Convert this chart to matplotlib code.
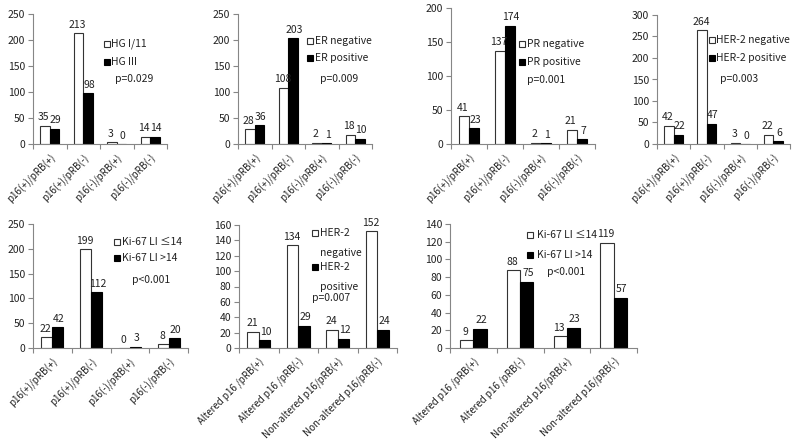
import matplotlib
matplotlib.use("Agg")
import matplotlib.pyplot as plt
import numpy as np

plt.rcParams['font.family'] = ['Noto Sans CJK KR', 'DejaVu Sans']

cats_a = ["p16(+)/pRB(+)", "p16(+)/pRB(-)", "p16(-)/pRB(+)", "p16(-)/pRB(-)"]
cats_b = ["Altered p16 /pRB(+)", "Altered p16 /pRB(-)", "Non-altered p16/pRB(+)", "Non-altered p16/pRB(-)"]

hg_low = [35, 213, 3, 14]
hg_high = [29, 98, 0, 14]
er_neg = [28, 108, 2, 18]
er_pos = [36, 203, 1, 10]
pr_neg = [41, 137, 2, 21]
pr_pos = [23, 174, 1, 7]
her_neg = [42, 264, 3, 22]
her_pos = [22, 47, 0, 6]
ki_low = [22, 199, 0, 8]
ki_high = [42, 112, 3, 20]
her2_neg_b = [21, 134, 24, 152]
her2_pos_b = [10, 29, 12, 24]
ki_low_b = [9, 88, 13, 119]
ki_high_b = [22, 75, 23, 57]

W, H = 794, 442
fig = plt.figure(figsize=(W/100, H/100), dpi=100)

def add_ax(l, r, t, b):
    return fig.add_axes([l/W, 1-b/H, (r-l)/W, (b-t)/H])

GRAY = '#868686'
FS = 7

panels = [
    ((33, 167, 14, 144), cats_a, hg_low, hg_high, ["HG I/11", "HG III"], "p=0.029", 250, 50, (0.55, 0.77, 0.63), (0.61, 0.50)),
    ((238, 372, 14, 144), cats_a, er_neg, er_pos, ["ER negative", "ER positive"], "p=0.009", 250, 50, (0.54, 0.79, 0.66), (0.61, 0.50)),
    ((451, 595, 8, 144), cats_a, pr_neg, pr_pos, ["PR negative", "PR positive"], "p=0.001", 200, 50, (0.49, 0.735, 0.60), (0.53, 0.47)),
    ((657, 790, 15, 144), cats_a, her_neg, her_pos, ["HER-2 negative", "HER-2 positive"], "p=0.003", 300, 50, (0.41, 0.81, 0.67), (0.47, 0.50)),
    ((33, 188, 224, 348), cats_a, ki_low, ki_high, ["Ki-67 LI \u226414", "Ki-67 LI >14"], "p<0.001", 250, 50, (0.54, 0.855, 0.726), (0.64, 0.55)),
    ((239, 397, 225, 348), cats_b, her2_neg_b, her2_pos_b, ["HER-2\n\nnegative", "HER-2\n\npositive"], "p=0.007", 160, 20, (0.48, 0.935, 0.66), (0.46, 0.41)),
    ((450, 637, 224, 348), cats_b, ki_low_b, ki_high_b, ["Ki-67 LI \u226414", "Ki-67 LI >14"], "p<0.001", 140, 20, (0.43, 0.91, 0.75), (0.52, 0.61)),
]

bw = 0.286
for box, cats, s1, s2, labels, ptxt, ymax, ystep, lg, pp in panels:
    ax = add_ax(*box)
    x = np.arange(len(cats))
    b1 = ax.bar(x - bw/2, s1, bw, color='white', edgecolor='#333333', linewidth=0.8)
    b2 = ax.bar(x + bw/2, s2, bw, color='black', edgecolor='black', linewidth=0.8)
    for bars, vals, dx in ((b1, s1, -0.8), (b2, s2, 0.8)):
        for rect, v in zip(bars, vals):
            ax.annotate(str(v), (rect.get_x() + rect.get_width()/2, v),
                        xytext=(dx, 2.5), textcoords='offset points',
                        ha='center', va='bottom', fontsize=FS + 0.5, color='#222222')
    ax.set_xlim(-0.5, len(cats) - 0.5)
    ax.set_ylim(0, ymax)
    ax.set_yticks(np.arange(0, ymax + 1, ystep))
    ax.set_xticks(x)
    ax.set_xticklabels(cats, rotation=45, ha='right', rotation_mode='anchor', fontsize=FS, color='#222222')
    ax.set_xticks(np.arange(-0.5, len(cats)), minor=True)
    ax.tick_params(axis='x', which='major', length=0, pad=6)
    ax.tick_params(axis='x', which='minor', length=3.5, color=GRAY, width=0.8, direction='out')
    ax.tick_params(axis='y', length=3.5, color=GRAY, width=0.8, labelsize=FS + 0.5, labelcolor='#222222', pad=2)
    for s in ('top', 'right'):
        ax.spines[s].set_visible(False)
    for s in ('left', 'bottom'):
        ax.spines[s].set_color(GRAY)
        ax.spines[s].set_linewidth(0.8)
    lx, ly1, ly2 = lg
    ax.plot([lx], [ly1], 's', transform=ax.transAxes, mfc='white', mec='#333333', ms=5, mew=0.8, clip_on=False)
    ax.plot([lx], [ly2], 's', transform=ax.transAxes, mfc='black', mec='black', ms=5, mew=0.8, clip_on=False)
    for yy, lab in ((ly1, labels[0]), (ly2, labels[1])):
        if '\n' in lab:
            ax.text(lx + 0.035, yy + 0.04, lab, transform=ax.transAxes, ha='left', va='top',
                    fontsize=FS + 0.5, color='#222222', linespacing=1.0)
        else:
            ax.text(lx + 0.035, yy, lab, transform=ax.transAxes, ha='left', va='center',
                    fontsize=FS + 0.5, color='#222222')
    ax.text(pp[0], pp[1], ptxt, transform=ax.transAxes, ha='left', va='center',
            fontsize=FS + 0.5, color='#222222')

fig.savefig('out.png', dpi=100, facecolor='white')
